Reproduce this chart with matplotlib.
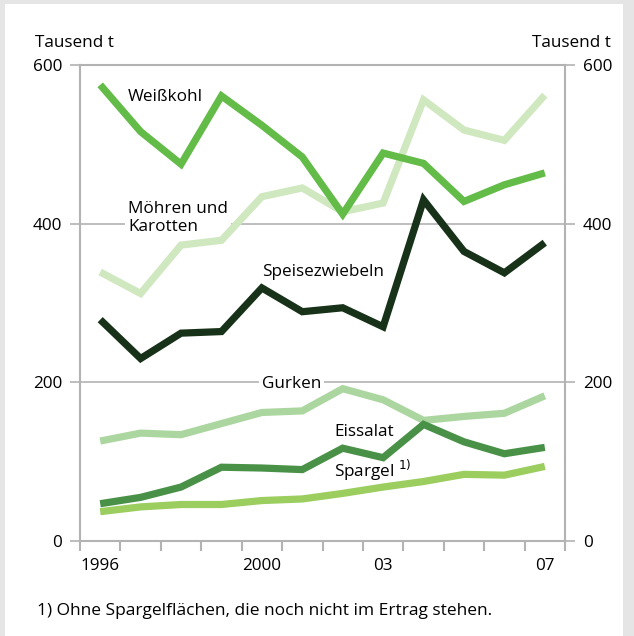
import matplotlib.pyplot as plt
import numpy as np

years = np.arange(1996, 2008)

weisskohl = [575, 516, 475, 561, 524, 484, 412, 489, 476, 428, 449, 464]
moehren = [339, 312, 373, 379, 434, 445, 415, 426, 556, 518, 505, 562]
zwiebeln = [279, 230, 262, 264, 319, 289, 294, 270, 430, 365, 338, 376]
gurken = [126, 136, 134, 148, 162, 164, 192, 178, 152, 157, 161, 183]
eissalat = [47, 55, 68, 93, 92, 90, 117, 105, 147, 125, 110, 118]
spargel = [37, 43, 46, 46, 51, 53, 60, 68, 75, 84, 83, 94]

xtick_pos = [1996, 2000, 2003, 2007]
xtick_lab = ['1996', '2000', '03', '07']
yticks = [0, 200, 400, 600]

plt.rcParams['font.family'] = ['Open Sans', 'DejaVu Sans']
grey = '#b3b3b3'

fig = plt.figure(figsize=(6.34, 6.36), dpi=100)
fig.patch.set_facecolor('#e5e5e5')
bg = fig.add_axes([5/634, 0, 618/634, 632/636])
bg.set_facecolor('white')
bg.set_xticks([]); bg.set_yticks([])
for s in bg.spines.values():
    s.set_visible(False)

ax = fig.add_axes([80/634, 95/636, 485/634, 476/636])
ax.set_facecolor('none')
ax.set_xlim(1995.5, 2007.5)
ax.set_ylim(0, 600)

for y in [200, 400]:
    ax.axhline(y, color=grey, lw=1.2, zorder=1)

lw = 5.2
ax.plot(years, moehren, color='#d0e8c0', lw=lw, solid_joinstyle='miter', solid_capstyle='butt', zorder=3)
ax.plot(years, weisskohl, color='#63bb48', lw=lw, solid_joinstyle='miter', solid_capstyle='butt', zorder=4)
ax.plot(years, zwiebeln, color='#173219', lw=lw, solid_joinstyle='miter', solid_capstyle='butt', zorder=4)
ax.plot(years, gurken, color='#acd6a0', lw=lw, solid_joinstyle='miter', solid_capstyle='butt', zorder=3)
ax.plot(years, eissalat, color='#4a9148', lw=lw, solid_joinstyle='miter', solid_capstyle='butt', zorder=4)
ax.plot(years, spargel, color='#9bcd5f', lw=lw, solid_joinstyle='miter', solid_capstyle='butt', zorder=3)

fs = 12.3
ax.text(1996.69, 560, 'Weißkohl', fontsize=fs, va='center', ha='left', zorder=5)
ax.text(1996.69, 407, 'Möhren und\nKarotten', fontsize=fs, va='center', ha='left', linespacing=1.15,
        bbox=dict(facecolor='white', edgecolor='none', pad=2), zorder=2)
ax.text(2000.0, 339, 'Speisezwiebeln', fontsize=fs, va='center', ha='left', zorder=5)
ax.text(2000.0, 198, 'Gurken', fontsize=fs, va='center', ha='left',
        bbox=dict(facecolor='white', edgecolor='none', pad=2), zorder=2)
ax.text(2001.79, 137, 'Eissalat', fontsize=fs, va='center', ha='left', zorder=5)
ax.text(2001.79, 89, 'Spargel $^{1)}$', fontsize=fs, va='center', ha='left', zorder=5)

for s in ['left', 'right', 'top', 'bottom']:
    ax.spines[s].set_color(grey)
    ax.spines[s].set_linewidth(1.5)

ax.set_yticks(yticks)
ax.tick_params(axis='y', which='both', left=True, right=True, labelleft=True, labelright=True,
               length=7, width=1.2, color=grey, labelsize=fs, pad=6)

# year labels; tick marks drawn at year boundaries below the axis
ax.set_xticks(xtick_pos)
ax.set_xticklabels(xtick_lab)
ax.tick_params(axis='x', length=0, labelsize=fs, pad=12)
bounds = np.append(years - 0.5, years[-1] + 0.5)
ax.vlines(bounds, -0.022, 0, transform=ax.get_xaxis_transform(), colors=grey, lw=1.5, clip_on=False)

fig.text(35/634, 1 - 43/636, 'Tausend t', fontsize=fs, va='center', ha='left')
fig.text(611/634, 1 - 43/636, 'Tausend t', fontsize=fs, va='center', ha='right')
fig.text(37/634, 1 - 611/636, '1) Ohne Spargelflächen, die noch nicht im Ertrag stehen.',
         fontsize=12.5, va='center', ha='left')

fig.savefig('out.png', dpi=100, facecolor=fig.get_facecolor())
